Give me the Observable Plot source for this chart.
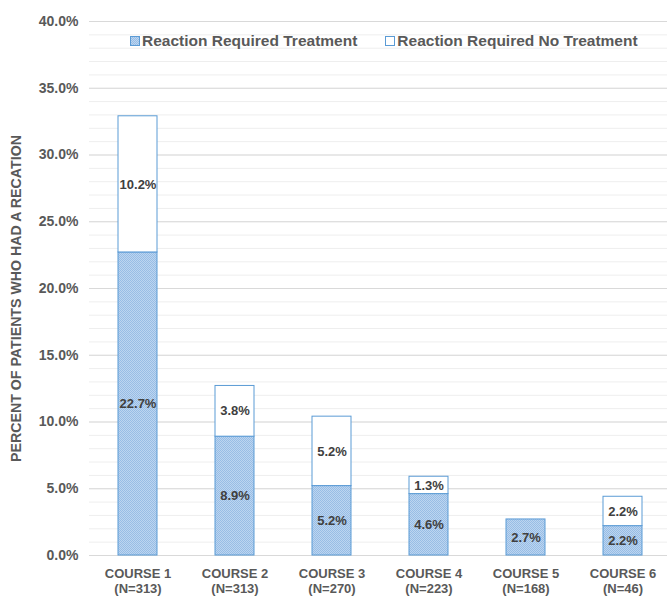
<!DOCTYPE html>
<html>
<head>
<meta charset="utf-8">
<script src="https://cdn.jsdelivr.net/npm/d3@7"></script>
<script src="https://cdn.jsdelivr.net/npm/@observablehq/plot@0.6"></script>
<style>
  html, body { margin: 0; padding: 0; background: #fff; }
  #wrap { position: relative; width: 667px; height: 598px; font-family: "Liberation Sans", Arial, sans-serif; }
  .legend { position: absolute; top: 32px; left: 130px; display: flex; align-items: center; font-size: 15.5px; font-weight: bold; color: #595959; white-space: nowrap; }
  .legend .item { display: flex; align-items: center; margin-right: 28px; }
  .legend .sw { width: 8px; height: 8px; border: 1px solid #5b9bd5; margin-right: 2px; box-sizing: content-box; }
</style>
</head>
<body>
<div id="wrap"></div>
<script>
const courses = ["COURSE 1", "COURSE 2", "COURSE 3", "COURSE 4", "COURSE 5", "COURSE 6"];
const nLabels = ["(N=313)", "(N=313)", "(N=270)", "(N=223)", "(N=168)", "(N=46)"];
const seriesNames = ["Reaction Required Treatment", "Reaction Required No Treatment"];
const treated = [22.7, 8.9, 5.2, 4.6, 2.7, 2.2];
const untreated = [10.2, 3.8, 5.2, 1.3, 0, 2.2];
const yTicks = [0, 5, 10, 15, 20, 25, 30, 35, 40];
const yLabel = "PERCENT OF PATIENTS WHO HAD A RECATION";

const rows = courses.flatMap((c, i) => [
  {course: c, series: seriesNames[0], value: treated[i]},
  {course: c, series: seriesNames[1], value: untreated[i]}
]).filter(d => d.value > 0);

const xLabel = new Map(courses.map((c, i) => [c, c + "\n" + nLabels[i]]));
const minorTicks = d3.range(0, 41, 1);

const chart = Plot.plot({
  width: 667,
  height: 598,
  marginLeft: 89,
  marginRight: -4,
  marginTop: 21,
  marginBottom: 43,
  style: {fontFamily: "Liberation Sans, Arial, sans-serif", background: "white"},
  x: {domain: courses, paddingInner: 0.6, paddingOuter: 0.3, label: null},
  y: {domain: [0, 40], label: null},
  color: {domain: seriesNames, range: ["url(#dither)", "#ffffff"]},
  marks: [
    Plot.ruleY(minorTicks, {stroke: "#eeeeee", strokeWidth: 1}),
    Plot.ruleY(yTicks, {stroke: "#d9d9d9", strokeWidth: 1}),
    Plot.axisY({ticks: yTicks, tickSize: 0, tickPadding: 11, tickFormat: d => d.toFixed(1) + "%", fontSize: 14, fontWeight: "bold", fill: "#595959", label: null}),
    Plot.axisX({tickSize: 0, tickPadding: 12, tickFormat: d => xLabel.get(d), fontSize: 13, fontWeight: "bold", fill: "#595959", lineHeight: 1.15, label: null}),
    Plot.text([yLabel], {frameAnchor: "left", textAnchor: "middle", rotate: -90, dx: -73, dy: 10, fontSize: 14.2, fontWeight: "bold", fill: "#595959", text: d => d}),
    Plot.barY(rows, Plot.stackY({x: "course", y: "value", fill: "series", stroke: "#5b9bd5", strokeWidth: 1, inset: 0})),
    Plot.text(rows, Plot.stackY({x: "course", y: "value", text: d => d.value.toFixed(1) + "%", fontSize: 13, fontWeight: "bold", fill: "#404040"}))
  ]
});

// dither pattern for "treatment" fill
const ns = "http://www.w3.org/2000/svg";
const defs = document.createElementNS(ns, "defs");
defs.innerHTML = `<pattern id="dither" width="2" height="2" patternUnits="userSpaceOnUse">
  <rect width="2" height="2" fill="#bcd5f0"/>
  <rect width="1" height="1" fill="#98bde5"/>
  <rect x="1" y="1" width="1" height="1" fill="#98bde5"/>
</pattern>`;
chart.insertBefore(defs, chart.firstChild);

const wrap = document.getElementById("wrap");
wrap.appendChild(chart);

const legend = document.createElement("div");
legend.className = "legend";
seriesNames.forEach((s, i) => {
  const item = document.createElement("div");
  item.className = "item";
  const sw = document.createElement("span");
  sw.className = "sw";
  sw.style.background = i === 0 ? "repeating-conic-gradient(#98bde5 0% 25%, #bcd5f0 0% 50%) 0 0 / 2px 2px" : "#fff";
  const t = document.createElement("span");
  t.textContent = s;
  item.appendChild(sw);
  item.appendChild(t);
  legend.appendChild(item);
});
wrap.appendChild(legend);
</script>
</body>
</html>
